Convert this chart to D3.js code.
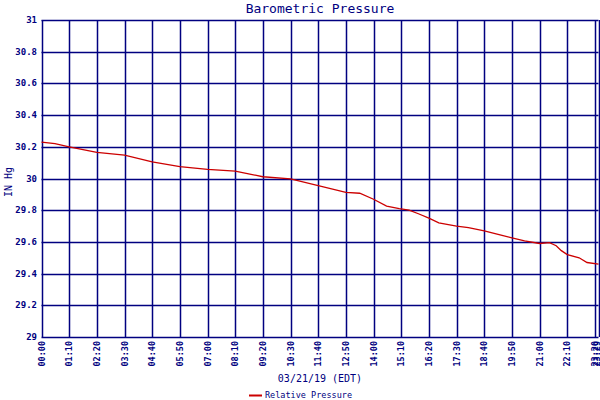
<html>
  <head>
    <title>Barometric Pressure</title>
    <script src="https://d3js.org/d3.v7.min.js"></script>
    <style>
      body{margin:0;background:#fff;}
      text{font-family:"DejaVu Sans Mono",monospace;fill:#000080;}
    </style>
  </head>
  <body>
    <script>
      // readings, minutes after midnight -> inches of mercury
      var times=[0,34,70,140,210,280,350,420,490,527,560,630,700,770,805,840,873,905,930,955,980,1005,1050,1080,1120,1160,1190,1222,1260,1285,1302,1315,1330,1360,1380,1409];
      var pressure=[30.23,30.22,30.20,30.165,30.147,30.105,30.075,30.058,30.047,30.028,30.011,29.997,29.955,29.913,29.907,29.869,29.826,29.81,29.80,29.776,29.75,29.72,29.70,29.69,29.67,29.645,29.625,29.606,29.59,29.595,29.576,29.545,29.52,29.50,29.47,29.46];
      var xTicks=[0,70,140,210,280,350,420,490,560,630,700,770,840,910,980,1050,1120,1190,1260,1330,1400,1409];
      var xTickLabels=["00:00","01:10","02:20","03:30","04:40","05:50","07:00","08:10","09:20","10:30","11:40","12:50","14:00","15:10","16:20","17:30","18:40","19:50","21:00","22:10","23:20","23:29"];
      var yTicks=[29,29.2,29.4,29.6,29.8,30,30.2,30.4,30.6,30.8,31];

      var navy="#000080";
      var plotL=41.5,plotR=598.5,plotT=20,plotB=337;

      var svg=d3.select('body').append('svg')
                .attr('width',600)
                .attr('height',400);

      var x=d3.scaleLinear().domain([0,1409]).range([plotL,plotR]);
      var y=d3.scaleLinear().domain([29,31]).range([plotB,plotT]);

      // grid
      svg.selectAll('line.v').data(xTicks).enter().append('line')
         .attr('x1',function(d){return Math.round(x(d))+0.5;})
         .attr('x2',function(d){return Math.round(x(d))+0.5;})
         .attr('y1',plotT).attr('y2',plotB)
         .attr('stroke',navy).attr('stroke-width',1.5);
      svg.selectAll('line.h').data(yTicks).enter().append('line')
         .attr('x1',plotL).attr('x2',plotR)
         .attr('y1',function(d){return Math.round(y(d))+0.5;})
         .attr('y2',function(d){return Math.round(y(d))+0.5;})
         .attr('stroke',navy).attr('stroke-width',1.5);

      // y labels
      svg.selectAll('text.yl').data(yTicks).enter().append('text')
         .attr('x',37).attr('y',function(d){return y(d)+3;})
         .attr('text-anchor','end')
         .attr('font-size',9).attr('font-weight','bold')
         .text(function(d){return String(+d.toFixed(1));});

      // x labels
      svg.selectAll('text.xl').data(xTicks).enter().append('text')
         .attr('transform',function(d){return 'translate('+Math.min(x(d)+3,599.5)+',341) rotate(-90)';})
         .attr('text-anchor','end')
         .attr('font-size',8.5).attr('font-weight','bold')
         .text(function(d,i){return xTickLabels[i];});

      // data line
      var line=d3.line()
                 .x(function(d){return x(d[0]);})
                 .y(function(d){return y(d[1]);});
      svg.append('path')
         .datum(d3.zip(times,pressure))
         .attr('d',line)
         .attr('fill','none')
         .attr('stroke','#cc0000')
         .attr('stroke-width',1.3);

      // titles
      svg.append('text').attr('x',320).attr('y',13).attr('text-anchor','middle')
         .attr('font-size',13).text('Barometric Pressure');
      svg.append('text').attr('transform','translate(12,182) rotate(-90)')
         .attr('text-anchor','middle').attr('font-size',10).text('IN Hg');
      svg.append('text').attr('x',320).attr('y',382).attr('text-anchor','middle')
         .attr('font-size',10).text('03/21/19 (EDT)');

      // legend
      svg.append('line').attr('x1',249).attr('x2',262).attr('y1',395.5).attr('y2',395.5)
         .attr('stroke','#cc0000').attr('stroke-width',2);
      svg.append('text').attr('x',265).attr('y',398).attr('font-size',8.5)
         .text('Relative Pressure');
    </script>
  </body>
</html>
